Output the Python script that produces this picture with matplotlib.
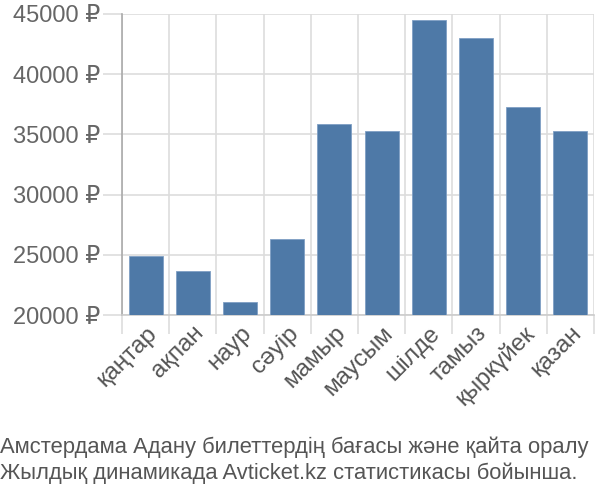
import numpy as np
import matplotlib
matplotlib.use('Agg')
import matplotlib.pyplot as plt

# месяцы и цены (по картинке)
months = ['қаңтар', 'ақпан', 'наур', 'сәуір', 'мамыр', 'маусым',
          'шілде', 'тамыз', 'қыркүйек', 'қазан']
prices = [24900, 23640, 21060, 26300, 35900, 35280, 44530, 42970, 37280, 35280]
yticks = [20000, 25000, 30000, 35000, 40000, 45000]
caption = ['Амстердама Адану билеттердің бағасы және қайта оралу',
           'Жылдық динамикада Avticket.kz статистикасы бойынша.']

plt.rcParams['font.family'] = ['Liberation Sans', 'DejaVu Sans']

fig = plt.figure(figsize=(6, 5), dpi=100)
ax = fig.add_axes([0.2033, 0.37, 0.7867, 0.602])

x = np.arange(len(months))
ax.bar(x, prices, width=0.72, color='#4e79a7', edgecolor='#7f9fc4', linewidth=0.6, zorder=3)

ax.set_xlim(-0.5, len(months) - 0.5)
ax.set_ylim(20000, 45000)

ax.set_yticks(yticks)
ax.set_yticklabels([f'{v} ₽' for v in yticks])
ax.set_xticks(x)
ax.set_xticklabels(months, rotation=45, ha='right', rotation_mode='anchor')
ax.set_xticks(np.arange(-0.5, len(months)), minor=True)

ax.grid(True, axis='y', color='#dddddd', linewidth=1.2, zorder=0)
ax.grid(True, axis='x', which='minor', color='#dddddd', linewidth=1.2, zorder=0)
ax.tick_params(axis='y', length=14, color='#dddddd', width=1.2, labelsize=17,
               labelcolor='#666666', pad=2)
ax.tick_params(axis='x', which='major', length=0, labelsize=17.5, labelcolor='#555555', pad=5)
ax.tick_params(axis='x', which='minor', length=14, color='#dddddd', width=1.2)

for s in ['top', 'right']:
    ax.spines[s].set_visible(False)
ax.spines['left'].set_color('#aaaaaa')
ax.spines['left'].set_linewidth(1.2)
ax.spines['bottom'].set_color('#cccccc')
ax.spines['bottom'].set_linewidth(1.2)

fig.text(0.0, 0.106, caption[0], fontsize=15.8, color='#555555', va='center')
fig.text(0.0, 0.054, caption[1], fontsize=15.8, color='#555555', va='center')

fig.savefig('out.png', dpi=100)
